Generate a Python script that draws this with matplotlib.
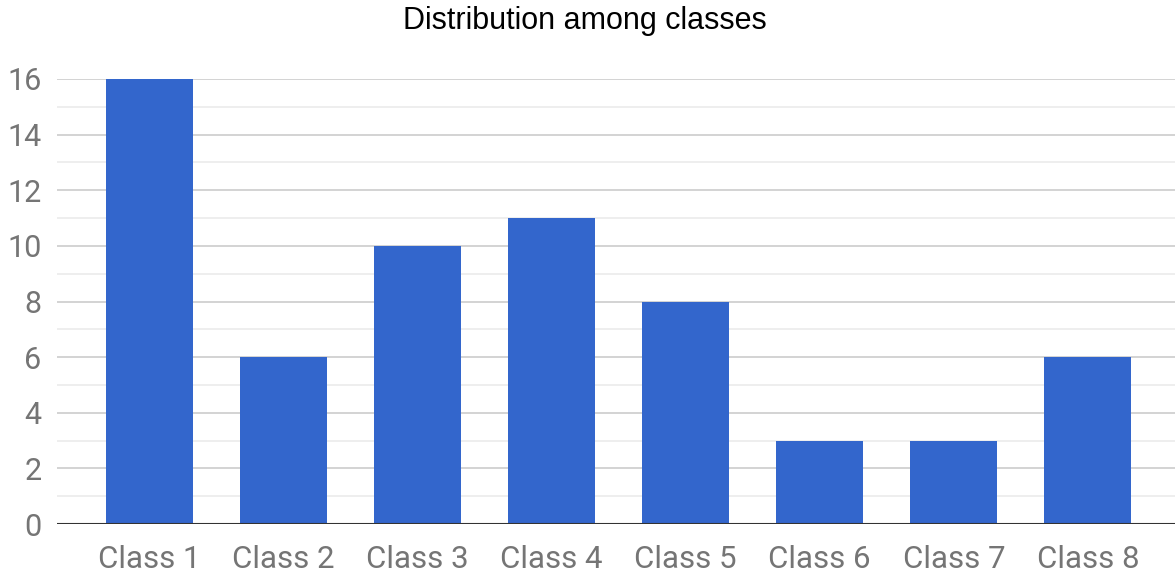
import matplotlib
matplotlib.use("Agg")
import matplotlib.pyplot as plt
from matplotlib.ticker import MultipleLocator

categories = ["Class 1", "Class 2", "Class 3", "Class 4", "Class 5", "Class 6", "Class 7", "Class 8"]
values = [16, 6, 10, 11, 8, 3, 3, 6]
yticks = [0, 2, 4, 6, 8, 10, 12, 14, 16]

fig = plt.figure(figsize=(11.75, 5.76), dpi=100)
ax = fig.add_axes([57/1175, 52/576, 1 - 57/1175, (524-79)/576])

x = list(range(len(categories)))
ax.bar(x, values, width=0.65, color="#3366CC", zorder=3)

ax.set_xlim(-0.69, 7.65)
ax.set_ylim(0, 16)
ax.set_yticks(yticks)
ax.yaxis.set_minor_locator(MultipleLocator(1))
ax.set_xticks(x)
ax.set_xticklabels(categories)

ax.grid(axis="y", which="major", color="#cccccc", linewidth=1.2, zorder=0)
ax.grid(axis="y", which="minor", color="#ebebeb", linewidth=1.2, zorder=0)
ax.axhline(0, color="#333333", linewidth=1.5, zorder=4)

for s in ax.spines.values():
    s.set_visible(False)
ax.tick_params(axis="both", which="both", length=0)
ax.tick_params(axis="y", pad=11, labelsize=22, labelcolor="#757575")
ax.tick_params(axis="x", pad=15, labelsize=22.5, labelcolor="#757575")
for lab in ax.get_xticklabels() + ax.get_yticklabels():
    lab.set_fontfamily("Roboto")

fig.text(585/1175, 1 - 21/576, "Distribution among classes", ha="center", va="center",
         fontsize=22, family="Liberation Sans", color="#000000")

fig.savefig("out.png", dpi=100)
